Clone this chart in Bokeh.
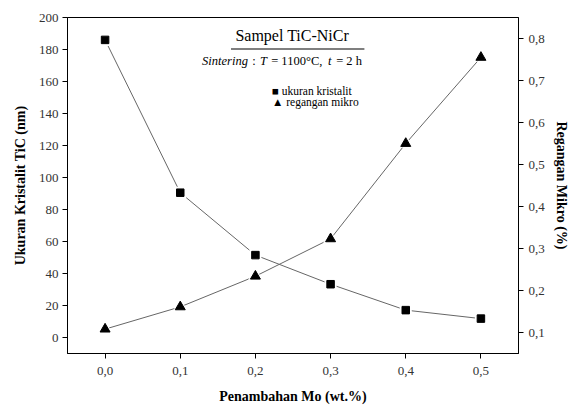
from bokeh.plotting import figure
from bokeh.models import (LinearAxis, Range1d, FixedTicker, Label, ColumnDataSource)
from bokeh.embed import file_html
from bokeh.resources import INLINE

# ---- data ----
mo = [0.0, 0.1, 0.2, 0.3, 0.4, 0.5]
crystallite_nm = [186, 90.5, 51.5, 33.3, 17.1, 11.8]
microstrain_pct = [0.108, 0.161, 0.234, 0.323, 0.550, 0.755]

x_ticks = [0.0, 0.1, 0.2, 0.3, 0.4, 0.5]
x_tick_labels = ["0,0", "0,1", "0,2", "0,3", "0,4", "0,5"]
yl_ticks = [0, 20, 40, 60, 80, 100, 120, 140, 160, 180, 200]
yr_ticks = [0.1, 0.2, 0.3, 0.4, 0.5, 0.6, 0.7, 0.8]
yr_tick_labels = ["0,1", "0,2", "0,3", "0,4", "0,5", "0,6", "0,7", "0,8"]

FONT = "Liberation Serif"
NB = "\u00a0"

p = figure(width=571, height=408, output_backend="svg", toolbar_location=None,
           x_range=Range1d(-0.05, 0.55), y_range=Range1d(-10, 200),
           min_border_left=67, min_border_right=50, min_border_top=17,
           min_border_bottom=55)
p.extra_y_ranges = {"strain": Range1d(0.05, 0.85)}

p.xgrid.visible = False
p.ygrid.visible = False
p.outline_line_color = "black"
p.outline_line_width = 1
p.background_fill_color = "white"
p.border_fill_color = "white"

src1 = ColumnDataSource(dict(x=mo, y=crystallite_nm))
src2 = ColumnDataSource(dict(x=mo, y=microstrain_pct))

p.line("x", "y", source=src1, line_color="#666666", line_width=1)
p.line("x", "y", source=src2, line_color="#666666", line_width=1, y_range_name="strain")
# white halos to create the gap around markers
p.scatter("x", "y", source=src1, marker="square", size=12, fill_color="white", line_color=None)
p.scatter("x", "y", source=src2, marker="triangle", size=15, fill_color="white", line_color=None,
          y_range_name="strain")
p.scatter("x", "y", source=src1, marker="square", size=7.5, fill_color="black", line_color="black")
p.scatter("x", "y", source=src2, marker="triangle", size=10, fill_color="black", line_color="black",
          y_range_name="strain")

def style_axis(ax):
    ax.axis_line_color = "black"
    ax.axis_line_width = 1
    ax.major_tick_line_color = "black"
    ax.major_tick_out = 5
    ax.major_tick_in = 0
    ax.minor_tick_line_color = None
    ax.major_label_text_font = FONT
    ax.major_label_text_font_size = "13px"
    ax.major_label_text_color = "#333333"
    ax.axis_label_text_font = FONT
    ax.axis_label_text_font_size = "14px"
    ax.axis_label_text_font_style = "bold"
    ax.axis_label_text_color = "black"

xa = p.xaxis[0]
style_axis(xa)
xa.ticker = FixedTicker(ticks=x_ticks)
xa.major_label_overrides = dict(zip(x_ticks, x_tick_labels))
xa.axis_label = "Penambahan Mo (wt.%)"
xa.major_label_standoff = 8
xa.axis_label_standoff = 11

ya = p.yaxis[0]
style_axis(ya)
ya.ticker = FixedTicker(ticks=yl_ticks)
ya.axis_label = "Ukuran Kristalit TiC (nm)"
ya.major_label_standoff = 4
ya.axis_label_standoff = 8

yr = LinearAxis(y_range_name="strain")
style_axis(yr)
yr.ticker = FixedTicker(ticks=yr_ticks)
yr.major_label_overrides = dict(zip(yr_ticks, yr_tick_labels))
yr.axis_label = "Regangan Mikro (%)"
yr.major_label_standoff = 5
yr.axis_label_standoff = 6
p.add_layout(yr, "right")

# ---- annotation box ----
p.add_layout(Label(x=0.249, y=188.6, text="Sampel TiC-NiCr", text_font=FONT,
                   text_font_size="16px", text_align="center", text_baseline="middle",
                   text_color="black"))
p.segment(x0=[0.1675], y0=[180.3], x1=[0.345], y1=[180.3], line_color="black", line_width=1.2)

sub_parts = [("Sintering", "italic"), (NB + ":" + NB, "normal"), ("T", "italic"),
             (NB + "=" + NB + "1100\u00b0C," + NB, "normal"), ("t", "italic"),
             (NB + "=" + NB + "2 h", "normal")]
sub_widths = [47, 11, 8, 60, 5, 30]
off = 0
for (txt, style), w in zip(sub_parts, sub_widths):
    p.add_layout(Label(x=0.129, y=173, x_offset=off, text=txt, text_font=FONT,
                       text_font_size="12.5px", text_font_style=style,
                       text_align="left", text_baseline="middle", text_color="black"))
    off += w

p.add_layout(Label(x=0.222, y=154.3, text="\u25a0 ukuran kristalit", text_font=FONT,
                   text_font_size="11.5px", text_align="left", text_baseline="middle",
                   text_color="black"))
p.add_layout(Label(x=0.222, y=147.5, text="\u25b2 regangan mikro", text_font=FONT,
                   text_font_size="11.5px", text_align="left", text_baseline="middle",
                   text_color="black"))

open("out.html", "w").write(file_html(p, INLINE))
